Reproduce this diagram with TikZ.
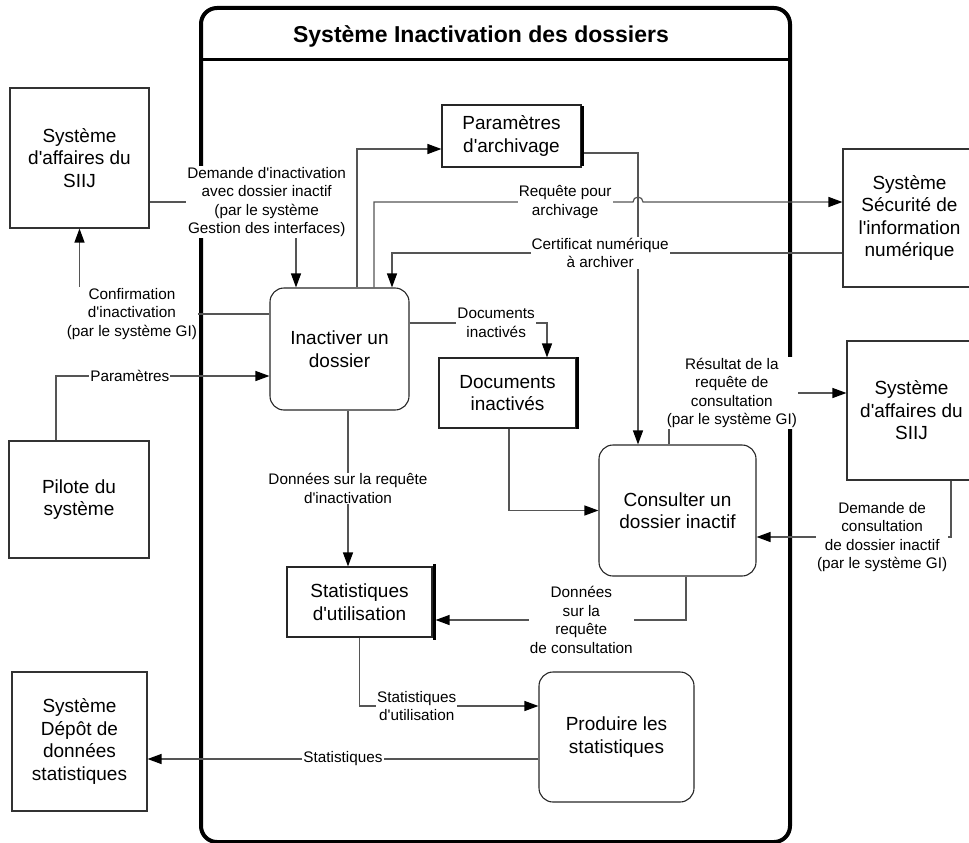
\documentclass[tikz,border=0pt]{standalone}
\usepackage{fontspec}
\setmainfont{Liberation Sans}[Ligatures=TeXOff]
\usetikzlibrary{arrows.meta,positioning}
\definecolor{flowgray}{RGB}{85,85,85}
\definecolor{boxgray}{RGB}{50,50,50}
\tikzstyle{link} = [draw=flowgray, line width=1.2pt]
\tikzstyle{flow} = [link, -{Triangle[length=14pt,width=10pt,black]}]
\tikzstyle{lbl} = [fill=white, inner sep=1pt, align=center, font=\fontsize{15.3}{18.5}\selectfont]
\tikzstyle{entity} = [rectangle, draw=boxgray, line width=1.1pt, align=center, font=\fontsize{19}{22.5}\selectfont]
\tikzstyle{process} = [entity, draw=black!85, rounded corners=14pt]
\tikzstyle{store} = [entity, draw=black!85]
\tikzstyle{storebar} = [line width=3pt]
\tikzstyle{frame} = [rectangle, draw, line width=4pt, rounded corners=16pt]

\begin{document}
\begin{tikzpicture}[x=1pt, y=-1pt]
\useasboundingbox (0,0) rectangle (969,843);

% System boundary
\node (sys) [frame, minimum width=589pt, minimum height=834pt] at (495.5,425) {};
\node (titre) at (481,36) {\fontsize{23}{27}\selectfont\bfseries Système Inactivation des dossiers};
\draw[line width=3pt] ([yshift=-54pt]sys.north west) -- ([yshift=-54pt]sys.north east);

% External entities
\node (siijl) [entity, minimum width=139pt, minimum height=140pt] at (79.5,158) {Système\\d'affaires du\\SIIJ};
\node (pilote) [entity, minimum width=140pt, minimum height=117pt] at (79,499.5) {Pilote du\\système};
\node (depot) [entity, minimum width=135pt, minimum height=139pt] at (79.5,741.5) {Système\\Dépôt de\\données\\statistiques};
\node (secu) [entity, minimum width=133pt, minimum height=138pt] at (909.5,218) {Système\\Sécurité de\\l'information\\numérique};
\node (siijr) [entity, minimum width=129pt, minimum height=139pt] at (911.5,410.5) {Système\\d'affaires du\\SIIJ};

% Processes
\node (inact) [process, minimum width=139pt, minimum height=122pt] at (339.5,349) {Inactiver un\\dossier};
\node (consu) [process, minimum width=157pt, minimum height=131pt] at (677.5,510.5) {Consulter un\\dossier inactif};
\node (prod) [process, minimum width=155pt, minimum height=130pt] at (616.5,737) {Produire les\\statistiques};

% Data stores
\node (param) [store, minimum width=139pt, minimum height=62pt] at (511.5,136) {Paramètres\\d'archivage};
\draw[storebar] ([xshift=1pt,yshift=-2pt]param.north east) -- ([xshift=1pt,yshift=2pt]param.south east);
\node (docs) [store, minimum width=137pt, minimum height=70pt] at (507.5,393) {Documents\\inactivés};
\draw[storebar] ([xshift=1pt]docs.north east) -- ([xshift=1pt]docs.south east);
\node (stat) [store, minimum width=145pt, minimum height=70pt] at (359.5,602) {Statistiques\\d'utilisation};
\draw[storebar] ([xshift=2pt,yshift=2pt]stat.north east) -- ([xshift=2pt,yshift=-2pt]stat.south east);

% Flows
\draw[flow] ([yshift=-44pt]siijl.east) -| ([xshift=-43.5pt]inact.north)
  node[lbl, pos=0.4] {Demande d'inactivation\\avec dossier inactif\\(par le système\\Gestion des interfaces)};
\draw[flow] ([yshift=35pt]inact.west) -| (siijl.south)
  node[lbl, pos=0.362] {Confirmation\\d'inactivation\\(par le système GI)};
\draw[flow] ([xshift=-23pt]pilote.north) |- ([yshift=-27pt]inact.west)
  node[lbl, pos=0.673] {Paramètres};
\draw[flow] ([xshift=17.5pt]inact.north) |- ([yshift=-13pt]param.west);
\draw[flow] ([xshift=2.5pt,yshift=-17pt]param.east) -| ([xshift=-39.5pt]consu.north);
\draw[flow] ([xshift=34.5pt]inact.north) |- (633,202)
  node[lbl, pos=0.869] {Requête pour\\archivage}
  arc (180:360:5) -- ([yshift=16pt]secu.west);
\draw[flow] ([yshift=-35pt]secu.west) -| ([xshift=52.5pt]inact.north)
  node[lbl, pos=0.269] {Certificat numérique\\à archiver};
\draw[flow] ([yshift=26pt]inact.east) -| ([xshift=39.5pt]docs.north)
  node[lbl, pos=0.315] {Documents\\inactivés};
\draw[flow] ([xshift=8.5pt]inact.south) -- ([xshift=8.5pt]inact.south |- stat.north)
  node[lbl, midway] {Données sur la requête\\d'inactivation};
\draw[flow] ([xshift=1.5pt]docs.south) |- (consu.west);
\draw[flow] ([xshift=-8.5pt]consu.north) |- ([yshift=17.5pt]siijr.west)
  node[lbl, pos=0.677] {Résultat de la\\requête de\\consultation\\(par le système GI)};
\draw[flow] ([xshift=39.5pt]siijr.south) |- ([yshift=-26.5pt]consu.east)
  node[lbl, pos=0.677] {Demande de\\consultation\\de dossier inactif\\(par le système GI)};
\draw[flow] ([xshift=8.5pt]consu.south) |- ([xshift=3pt,yshift=-18pt]stat.east)
  node[lbl, pos=0.709] {Données\\sur la\\requête\\de consultation};
\draw[flow] (stat.south) |- ([yshift=31pt]prod.west)
  node[lbl, pos=0.66] {Statistiques\\d'utilisation};
\draw[flow] ([yshift=-22pt]prod.west) -- ([yshift=-17.5pt]depot.east)
  node[lbl, midway] {Statistiques};

\end{tikzpicture}
\end{document}
